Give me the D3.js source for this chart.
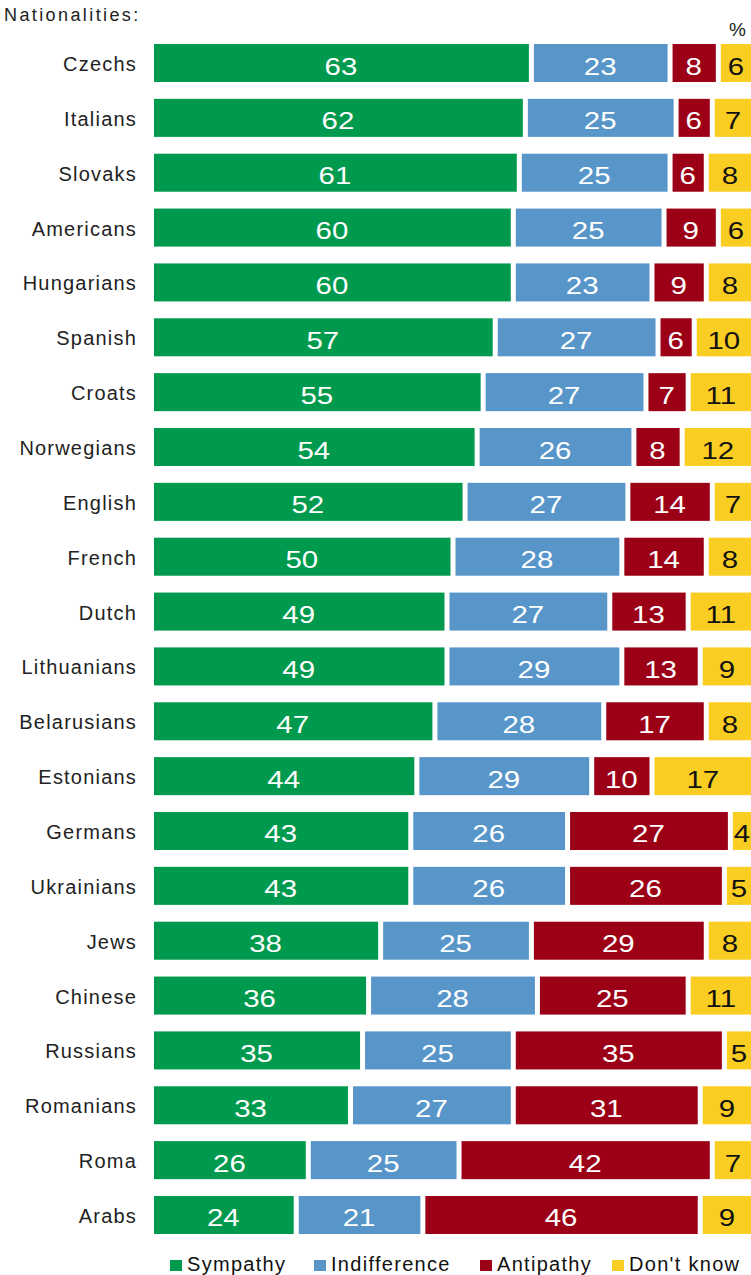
<!DOCTYPE html>
<html lang="en">
<head>
    <meta charset="utf-8">
    <title>Nationalities</title>
    <script type="text/javascript" src="https://cdn.jsdelivr.net/npm/d3@7"></script>
    <style>
        body { margin: 0; background: #fff; }
        text { font-family: "Liberation Sans", Arial, sans-serif; }
    </style>
</head>
<body>
<script type="text/javascript">
    var nations = ["Czechs", "Italians", "Slovaks", "Americans", "Hungarians", "Spanish",
        "Croats", "Norwegians", "English", "French", "Dutch", "Lithuanians",
        "Belarusians", "Estonians", "Germans", "Ukrainians", "Jews", "Chinese",
        "Russians", "Romanians", "Roma", "Arabs"];
    var sympathy     = [63, 62, 61, 60, 60, 57, 55, 54, 52, 50, 49, 49, 47, 44, 43, 43, 38, 36, 35, 33, 26, 24];
    var indifference = [23, 25, 25, 25, 23, 27, 27, 26, 27, 28, 27, 29, 28, 29, 26, 26, 25, 28, 25, 27, 25, 21];
    var antipathy    = [8, 6, 6, 9, 9, 6, 7, 8, 14, 14, 13, 13, 17, 10, 27, 26, 29, 25, 35, 31, 42, 46];
    var dontKnow     = [6, 7, 8, 6, 8, 10, 11, 12, 7, 8, 11, 9, 8, 17, 4, 5, 8, 11, 5, 9, 7, 9];
    var seriesNames  = ["Sympathy", "Indifference", "Antipathy", "Don't know"];
    var seriesColors = ["#009a4e", "#5896ca", "#9b0016", "#facd22"];
    var textColors   = ["#fff", "#fff", "#fff", "#111"];

    var w = 751;
    var h = 1275;
    var gap = 5;

    var svg = d3.select("body")
            .append("svg")
            .attr("width", w)
            .attr("height", h);

    var y = d3.scaleBand()
            .domain(nations)
            .range([44, 1234])
            .paddingInner(0.307)
            .paddingOuter(0);

    var x = d3.scaleLinear()
            .domain([0, 100])
            .range([154, 757]);

    // build stacked rows
    var series = [sympathy, indifference, antipathy, dontKnow];
    var cells = [];
    nations.forEach(function (n, i) {
        var cum = 0;
        series.forEach(function (s, k) {
            cells.push({nation: n, k: k, v: s[i], x0: cum, x1: cum + s[i]});
            cum += s[i];
        });
    });

    svg.selectAll("rect.seg")
            .data(cells)
            .enter()
            .append("rect")
            .attr("class", "seg")
            .attr("x", function (d) { return x(d.x0); })
            .attr("y", function (d) { return y(d.nation); })
            .attr("width", function (d) { return x(d.x1) - x(d.x0) - gap; })
            .attr("height", y.bandwidth())
            .attr("fill", function (d) { return seriesColors[d.k]; });

    // value labels are drawn a bit wide, like the original
    svg.selectAll("text.val")
            .data(cells)
            .enter()
            .append("text")
            .attr("class", "val")
            .text(function (d) { return d.v; })
            .attr("transform", function (d) {
                var cx = (x(d.x0) + x(d.x1) - gap) / 2 - 0.5;
                var cy = y(d.nation) + y.bandwidth() / 2 + 11.5;
                return "translate(" + cx + "," + cy + ") scale(1.28,1)";
            })
            .attr("text-anchor", "middle")
            .attr("font-size", "23px")
            .attr("fill", function (d) { return textColors[d.k]; });

    // category labels
    svg.selectAll("text.cat")
            .data(nations)
            .enter()
            .append("text")
            .attr("class", "cat")
            .text(function (d) { return d; })
            .attr("x", 137)
            .attr("y", function (d) { return y(d) + y.bandwidth() / 2 + 8; })
            .attr("text-anchor", "end")
            .attr("font-size", "20px")
            .attr("letter-spacing", "1.2px")
            .attr("fill", "#222");

    svg.append("text")
            .text("Nationalities:")
            .attr("x", 4)
            .attr("y", 21)
            .attr("font-size", "18px")
            .attr("letter-spacing", "2.4px")
            .attr("fill", "#222");

    svg.append("text")
            .text("%")
            .attr("x", 729)
            .attr("y", 36)
            .attr("font-size", "19px")
            .attr("fill", "#222");

    // legend
    var legendX = [170, 314, 480, 612];
    var lg = svg.selectAll("g.leg")
            .data(seriesNames)
            .enter()
            .append("g")
            .attr("class", "leg")
            .attr("transform", function (d, i) { return "translate(" + legendX[i] + ",0)"; });
    lg.append("rect")
            .attr("x", 0)
            .attr("y", 1260)
            .attr("width", 12)
            .attr("height", 11)
            .attr("fill", function (d, i) { return seriesColors[i]; });
    lg.append("text")
            .text(function (d) { return d; })
            .attr("x", 17)
            .attr("y", 1271)
            .attr("font-size", "20px")
            .attr("letter-spacing", "1.3px")
            .attr("fill", "#111");
</script>
</body>
</html>
